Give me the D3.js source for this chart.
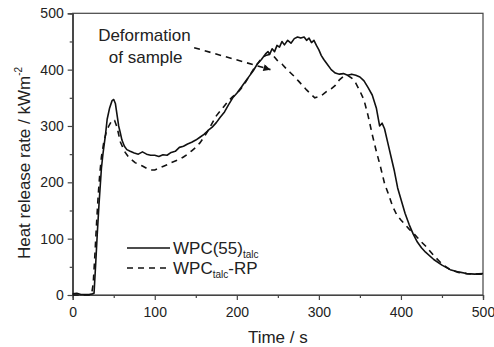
<!DOCTYPE html>
<html><head><meta charset="utf-8">
<script src="https://cdn.jsdelivr.net/npm/d3@7"></script>
<style>
body{margin:0;background:#fff;}
text{font-family:"Liberation Sans",Arial,sans-serif;fill:#222;}
</style></head>
<body><svg id="c" width="494" height="347"></svg>
<script>
// Time (s) and heat release rate (kW/m2)
const solidT = [0,5,10,15,20,24,26,28,30,32,35,37,40,42,45,48,50,52,54,56,58,60,63,66,70,75,80,85,90,95,100,105,110,115,120,125,130,135,140,145,150,155,160,165,170,175,180,185,190,195,200,205,210,215,220,225,230,235,238,240,243,246,249,252,255,258,262,266,270,274,278,282,285,288,291,294,297,300,303,306,310,315,320,325,330,335,340,345,350,355,360,365,370,374,377,380,384,388,392,396,400,405,410,415,420,425,430,440,450,460,470,480,490,500];
const solidV = [2,3,1,1,1,2,3,55,110,160,225,252,285,312,332,345,347,340,320,300,288,275,264,258,255,252,250,254,250,248,248,246,249,248,253,255,262,264,268,271,275,280,285,292,298,306,316,325,338,350,358,368,378,388,398,410,418,428,432,427,437,432,443,440,450,444,452,447,455,458,456,458,452,456,448,452,443,435,425,418,410,400,394,392,393,390,392,390,387,380,368,355,332,300,305,295,270,245,220,190,170,145,125,108,94,84,76,63,53,45,41,38,37,38];
const dashT = [0,10,20,23,25,27,29,31,33,35,38,41,44,47,49,51,54,56,58,61,64,68,72,76,80,85,90,95,100,105,110,115,120,125,130,135,140,145,150,155,160,165,170,175,180,185,190,195,200,205,210,215,220,225,230,235,240,245,250,255,260,265,270,275,280,285,290,295,300,305,310,315,320,325,330,335,340,345,350,355,360,365,370,375,380,385,390,395,400,405,410,415,420,425,430,440,450,460,470,480,490,500];
const dashV = [0,0,0,1,20,70,125,175,215,245,272,290,300,308,311,310,298,285,272,262,253,245,240,235,232,229,225,222,222,225,228,231,235,238,241,245,250,256,262,270,280,292,305,318,327,336,345,352,358,366,376,388,400,410,420,425,427,424,415,410,402,395,388,380,372,364,357,350,352,356,362,366,372,382,388,390,385,376,362,346,318,285,255,228,198,178,157,142,133,125,117,110,102,94,87,70,55,45,40,38,37,37];
const xTicks = [0,100,200,300,400,500];
const yTicks = [0,100,200,300,400,500];
const seriesNames = ["WPC(55)", "WPC"];
const seriesSubs = ["talc", "talc"];
const seriesSuffix = ["", "-RP"];
const annotationLines = ["Deformation", "of sample"];
// annotation arrow in data units: start, tip
const arrowT = [148, 241];
const arrowV = [439, 400];

const svg = d3.select("#c");
const x = d3.scaleLinear().domain([0,500]).range([72.7,483]);
const y = d3.scaleLinear().domain([0,500]).range([295,13.3]);
const axisColor = "#444";

// frame
svg.append("rect").attr("x",x(0)).attr("y",y(500)).attr("width",x(500)-x(0)).attr("height",y(0)-y(500))
  .attr("fill","none").attr("stroke",axisColor).attr("stroke-width",1.2);

// axes
const gx = svg.append("g").attr("transform",`translate(0,${y(0)})`)
  .call(d3.axisBottom(x).tickValues(xTicks).tickSize(5).tickPadding(7));
const gxm = svg.append("g").attr("transform",`translate(0,${y(0)})`)
  .call(d3.axisBottom(x).tickValues(xTicks.slice(0,-1).map(v=>v+50)).tickSize(3).tickFormat(""));
const gy = svg.append("g").attr("transform",`translate(${x(0)},0)`)
  .call(d3.axisLeft(y).tickValues(yTicks).tickSize(5).tickPadding(4));
const gym = svg.append("g").attr("transform",`translate(${x(0)},0)`)
  .call(d3.axisLeft(y).tickValues(yTicks.slice(0,-1).map(v=>v+50)).tickSize(3).tickFormat(""));
[gx,gxm,gy,gym].forEach(g=>{
  g.select(".domain").attr("stroke",axisColor).attr("stroke-width",1.2);
  g.selectAll(".tick line").attr("stroke",axisColor).attr("stroke-width",1.2);
  g.selectAll(".tick text").attr("font-size",14).attr("fill","#333")
    .attr("font-family","Liberation Sans, Arial, sans-serif");
});

// lines
const line = d3.line().x(d=>x(d[0])).y(d=>y(d[1]));
svg.append("path").datum(solidT.map((t,i)=>[t,solidV[i]]))
  .attr("d",line).attr("fill","none").attr("stroke","#111").attr("stroke-width",1.6).attr("stroke-linejoin","round");
svg.append("path").datum(dashT.map((t,i)=>[t,dashV[i]]))
  .attr("d",line).attr("fill","none").attr("stroke","#111").attr("stroke-width",1.6).attr("stroke-dasharray","6,5");

// annotation
svg.append("text").attr("x",x(31)).attr("y",y(451)).attr("font-size",17).text(annotationLines[0]);
svg.append("text").attr("x",x(44)).attr("y",y(412)).attr("font-size",17).text(annotationLines[1]);
svg.append("defs").append("marker").attr("id","ah").attr("viewBox","0 0 10 10").attr("refX",10).attr("refY",5)
  .attr("markerWidth",10).attr("markerHeight",7).attr("markerUnits","userSpaceOnUse").attr("orient","auto")
  .append("path").attr("d","M0,0L10,5L0,10z").attr("fill","#111");
svg.append("line").attr("x1",x(arrowT[0])).attr("y1",y(arrowV[0])).attr("x2",x(arrowT[1])).attr("y2",y(arrowV[1]))
  .attr("stroke","#111").attr("stroke-width",1.6).attr("stroke-dasharray","6,5").attr("marker-end","url(#ah)");

// legend
const lg = svg.append("g");
[0,1].forEach(i=>{
  const ly = 248 + i*20;
  lg.append("line").attr("x1",127).attr("x2",170).attr("y1",ly).attr("y2",ly)
    .attr("stroke","#111").attr("stroke-width",1.6).attr("stroke-dasharray", i===0? null : "6,5");
  const t = lg.append("text").attr("x",173).attr("y",ly+6).attr("font-size",17);
  t.append("tspan").text(seriesNames[i]);
  t.append("tspan").attr("font-size",10).attr("dy",4).text(seriesSubs[i]);
  if(seriesSuffix[i]) t.append("tspan").attr("dy",-4).text(seriesSuffix[i]);
});

// axis titles
svg.append("text").attr("x",x(250)).attr("y",343).attr("text-anchor","middle").attr("font-size",17).text("Time / s");
const yt = svg.append("text").attr("transform","translate(30,163) rotate(-90)").attr("text-anchor","middle").attr("font-size",17);
yt.append("tspan").text("Heat release rate / kWm");
yt.append("tspan").attr("font-size",10).attr("dy",-8).text("-2");
</script></body></html>
